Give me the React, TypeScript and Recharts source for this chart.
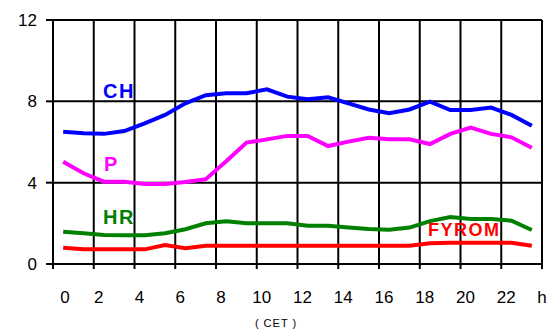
import { LineChart, Line, XAxis, YAxis, CartesianGrid, ReferenceDot } from "recharts";

const hours = [0, 1, 2, 3, 4, 5, 6, 7, 8, 9, 10, 11, 12, 13, 14, 15, 16, 17, 18, 19, 20, 21, 22, 23];
const ch = [6.5, 6.43, 6.4, 6.54, 6.92, 7.33, 7.9, 8.3, 8.4, 8.4, 8.59, 8.23, 8.1, 8.2, 7.9, 7.6, 7.41, 7.6, 7.98, 7.57, 7.57, 7.69, 7.33, 6.8];
const p = [5.03, 4.46, 4.05, 4.05, 3.94, 3.94, 4.03, 4.17, 5.05, 5.97, 6.13, 6.3, 6.3, 5.8, 6.02, 6.21, 6.13, 6.13, 5.9, 6.4, 6.71, 6.4, 6.23, 5.72];
const hr = [1.59, 1.51, 1.43, 1.41, 1.41, 1.51, 1.71, 2.0, 2.1, 2.0, 2.0, 2.0, 1.88, 1.88, 1.8, 1.72, 1.69, 1.79, 2.11, 2.31, 2.21, 2.21, 2.13, 1.67];
const fyrom = [0.8, 0.72, 0.72, 0.72, 0.72, 0.93, 0.77, 0.9, 0.9, 0.9, 0.9, 0.9, 0.9, 0.9, 0.9, 0.9, 0.9, 0.9, 1.02, 1.05, 1.05, 1.05, 1.05, 0.9];

// gridlines sit between hours, every 2 hours
const xTicks = [-0.5, 1.5, 3.5, 5.5, 7.5, 9.5, 11.5, 13.5, 15.5, 17.5, 19.5, 21.5, 23.5];
const yTicks = [0, 4, 8, 12];

// series name labels: [text, hour, value, colour, font size]
const seriesLabels: [string, number, number, string, number][] = [
  ["CH", 1.96, 8.5, "#0000FF", 20],
  ["P", 2.0, 4.92, "#FF00FF", 20],
  ["HR", 1.96, 2.3, "#008000", 20],
  ["FYROM", 17.9, 1.72, "#FF0000", 18],
];

const data = hours.map((h, i) => ({ h, ch: ch[i], p: p[i], hr: hr[i], fyrom: fyrom[i] }));

const font = "'Liberation Sans', Arial, sans-serif";

const HourTick = (props: any) => {
  const { x, y, payload } = props;
  const v = payload.value + 0.5;
  const label = v === 24 ? "h" : String(v);
  const dx = v === 24 ? 0 : v === 0 ? 12 : 5;
  return (
    <text x={x + dx} y={y + 32} textAnchor="middle" fontSize={17} fontFamily={font} fill="#000">
      {label}
    </text>
  );
};

const nameLabel = (text: string, color: string, size: number) => (props: any) => {
  const vb = props.viewBox || {};
  return (
    <text x={vb.x} y={vb.y} dy="0.36em" fill={color} fontSize={size} fontWeight="bold" fontFamily={font} letterSpacing={1.5}>
      {text}
    </text>
  );
};

const App = () => {
  return (
    <div style={{ position: "absolute", left: 0, top: 0, background: "#fff" }}>
      <LineChart width={552} height={331} data={data} margin={{ top: 20, right: 10, bottom: 0, left: 0 }}>
        <CartesianGrid stroke="#000" strokeWidth={2} />
        <XAxis
          dataKey="h"
          type="number"
          domain={[-0.5, 23.5]}
          ticks={xTicks}
          interval={0}
          height={67}
          tickSize={5}
          axisLine={{ stroke: "#000", strokeWidth: 2 }}
          tickLine={{ stroke: "#000", strokeWidth: 2 }}
          tick={<HourTick />}
          label={() => (
            <text x={276} y={327} textAnchor="middle" fontSize={11} fontFamily={font} fill="#000" letterSpacing={1}>
              ( CET )
            </text>
          )}
        />
        <YAxis
          domain={[0, 12]}
          ticks={yTicks}
          width={53}
          tickSize={7}
          tickMargin={9}
          axisLine={{ stroke: "#000", strokeWidth: 2 }}
          tickLine={{ stroke: "#000", strokeWidth: 2 }}
          tick={{ fill: "#000", fontSize: 17, fontFamily: font }}
        />
        <Line type="linear" dataKey="ch" stroke="#0000FF" strokeWidth={4} dot={false} isAnimationActive={false} />
        <Line type="linear" dataKey="p" stroke="#FF00FF" strokeWidth={4} dot={false} isAnimationActive={false} />
        <Line type="linear" dataKey="hr" stroke="#008000" strokeWidth={4} dot={false} isAnimationActive={false} />
        <Line type="linear" dataKey="fyrom" stroke="#FF0000" strokeWidth={4} dot={false} isAnimationActive={false} />
        {seriesLabels.map(([t, x, y, c, s]) => (
          <ReferenceDot key={t} x={x} y={y} r={0} fill="none" stroke="none" label={nameLabel(t, c, s)} />
        ))}
      </LineChart>
    </div>
  );
};

export default App;
